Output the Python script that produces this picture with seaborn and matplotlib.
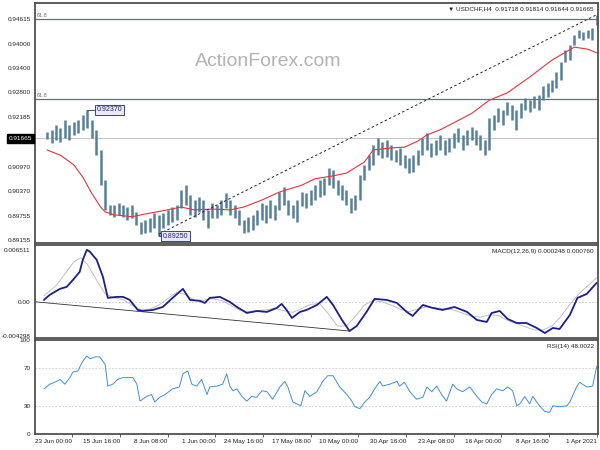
import numpy as np
import pandas as pd
import matplotlib
matplotlib.use("Agg")
import matplotlib.pyplot as plt
import matplotlib.transforms as mtransforms
import seaborn as sns

# USDCHF H4, one entry per 12h step (3 bars), oldest first: 1 Apr 2021 -> 25 Jun 2021
bar_high = [
    0.9471, 0.9439, 0.9434, 0.9429, 0.9434, 0.9422, 0.9397, 0.9385, 0.9355, 0.9331,
    0.9311, 0.9303, 0.9296, 0.9274, 0.9271, 0.9261, 0.9266, 0.9254, 0.9237, 0.9249,
    0.9257, 0.9237, 0.9242, 0.9224, 0.9217, 0.9163, 0.9175, 0.9187, 0.9195, 0.9187,
    0.9175, 0.9192, 0.9180, 0.9168, 0.9163, 0.9175, 0.9163, 0.9155, 0.9180, 0.9168,
    0.9138, 0.9126, 0.9118, 0.9126, 0.9143, 0.9138, 0.9150, 0.9163, 0.9158, 0.9168,
    0.9150, 0.9126, 0.9101, 0.9076, 0.9027, 0.9019, 0.9039, 0.9051, 0.9064, 0.9089,
    0.9093, 0.9069, 0.9064, 0.9051, 0.9039, 0.9032, 0.9034, 0.9014, 0.9002, 0.9014,
    0.9047, 0.9034, 0.9002, 0.9014, 0.9002, 0.9007, 0.8990, 0.8977, 0.8972, 0.8965,
    0.8990, 0.9002, 0.9014, 0.9032, 0.9014, 0.9002, 0.9007, 0.8990, 0.9014, 0.9022,
    0.9014, 0.9027, 0.9051, 0.9039, 0.9002, 0.8997, 0.8990, 0.8982, 0.8977, 0.8982,
    0.8970, 0.8965, 0.8960, 0.8985, 0.9002, 0.8997, 0.9002, 0.9007, 0.9002, 0.9002,
    0.9064, 0.9138, 0.9187, 0.9212, 0.9237, 0.9224, 0.9212, 0.9207, 0.9200, 0.9212,
    0.9192, 0.9200, 0.9187, 0.9182]
bar_low = [
    0.9447, 0.9410, 0.9415, 0.9410, 0.9415, 0.9397, 0.9360, 0.9355, 0.9311, 0.9291,
    0.9281, 0.9269, 0.9261, 0.9237, 0.9242, 0.9232, 0.9237, 0.9217, 0.9187, 0.9212,
    0.9225, 0.9200, 0.9207, 0.9187, 0.9138, 0.9126, 0.9138, 0.9150, 0.9163, 0.9150,
    0.9138, 0.9158, 0.9143, 0.9133, 0.9126, 0.9138, 0.9126, 0.9121, 0.9138, 0.9126,
    0.9101, 0.9084, 0.9081, 0.9093, 0.9101, 0.9108, 0.9113, 0.9121, 0.9118, 0.9126,
    0.9101, 0.9089, 0.9064, 0.9014, 0.8990, 0.8982, 0.9002, 0.9014, 0.9027, 0.9044,
    0.9051, 0.9027, 0.9022, 0.9014, 0.9002, 0.8995, 0.8999, 0.8960, 0.8970, 0.8977,
    0.9002, 0.8990, 0.8965, 0.8970, 0.8958, 0.8965, 0.8953, 0.8940, 0.8935, 0.8933,
    0.8953, 0.8970, 0.8977, 0.8995, 0.8977, 0.8970, 0.8970, 0.8945, 0.8965, 0.8985,
    0.8972, 0.8977, 0.9002, 0.8995, 0.8965, 0.8960, 0.8953, 0.8945, 0.8925, 0.8945,
    0.8935, 0.8933, 0.8930, 0.8953, 0.8970, 0.8965, 0.8972, 0.8977, 0.8972, 0.8977,
    0.8990, 0.9051, 0.9126, 0.9168, 0.9192, 0.9187, 0.9180, 0.9175, 0.9163, 0.9168,
    0.9158, 0.9163, 0.9155, 0.9164]

# red moving average
ma_t = [0, 2, 5, 10, 15, 20, 24, 28, 32, 35, 38, 40, 43, 46, 50, 52, 56, 59, 63, 66,
        71, 75, 79, 82, 86, 90, 93, 97, 101, 104, 108, 110, 111, 113, 115, 117, 120, 123]
ma_v = [0.9378, 0.9387, 0.9392, 0.9360, 0.9318, 0.9279, 0.9261, 0.9228, 0.9205, 0.9188,
        0.9175, 0.9160, 0.9145, 0.9143, 0.9138, 0.9108, 0.9081, 0.9074, 0.9067, 0.9051,
        0.9034, 0.9014, 0.8997, 0.8990, 0.8992, 0.8990, 0.8997, 0.8988, 0.8980, 0.8973,
        0.8978, 0.8985, 0.8997, 0.9031, 0.9071, 0.9101, 0.9125, 0.9138]

# dotted trend line low -> high
trend_t = [98, 0]
trend_v = [0.8930, 0.9472]

fib_levels = [0.94615, 0.92639]
fib_names = ['61.8', '61.8']
last_price = 0.91665
hi_mark = (114, 0.92370)
lo_mark = (98, 0.89250)
price_ticks = [0.94615, 0.94000, 0.93400, 0.92800, 0.92185, 0.90970, 0.90370, 0.89755, 0.89155]

macd_t = [0, 2.2, 4.3, 6, 8.3, 9.8, 11.6, 13.4, 15.7, 17.9,
          19.9, 21.7, 23.5, 24.6, 26.8, 29, 31.8, 34.5, 36.7, 38.9,
          41.2, 42.5, 44.7, 47, 49.7, 51.5, 53.7, 55.3, 57, 59,
          60.4, 62.6, 64.9, 66.4, 68.2, 69.4, 70.5, 71.6, 73.8, 76,
          78.3, 80.5, 82.1, 84.3, 86.6, 87.7, 88.8, 91, 92.6, 94.9,
          97.1, 99.3, 101.6, 102.7, 104.5, 106, 107.4, 109.4, 110.5, 111.9,
          113.4, 114.1, 115, 115.7, 117.2, 118.6, 120.1, 122.4, 123.7]
macd_v = [0.00238, 0.00100, 0.00050, -0.00163, -0.00338, -0.00325, -0.00388, -0.00325, -0.00263, -0.00263,
          -0.00213, -0.00113, -0.00138, -0.00250, -0.00225, -0.00125, -0.00063, -0.00100, -0.00075, -0.00038,
          -0.00175, -0.00125, -0.00013, 0.00025, 0.00038, -0.00125, -0.00300, -0.00363, -0.00225, -0.00038,
          0.00063, -0.00038, -0.00100, -0.00125, -0.00200, -0.00100, -0.00025, -0.00075, -0.00125, -0.00113,
          -0.00138, -0.00063, 0.0, 0.00063, 0.00050, -0.00013, 0.00013, 0.00025, 0.00163, 0.00050,
          -0.00063, -0.00100, -0.00113, -0.00100, 0.00025, 0.00063, 0.00063, 0.00050, 0.00313, 0.00525,
          0.00625, 0.00650, 0.00525, 0.00375, 0.00275, 0.00188, 0.00163, 0.00088, 0.00025]
sig_t = [0, 2, 4, 6, 8, 10, 12, 14, 16, 18, 20, 22, 24, 26, 28, 30, 32, 35, 38,
         40, 42, 44, 46, 48, 50, 52, 54, 56, 58, 60, 62, 64, 66, 68, 70, 72, 74, 76, 78,
         80, 82, 84, 86, 88, 90, 92, 94, 96, 98, 100, 102, 104, 106, 108, 110, 112, 114,
         115.5, 117, 119, 121, 123.7]
sig_v = [0.0030, 0.0020, 0.0010, -0.0003, -0.0018, -0.0030, -0.0035, -0.0035, -0.0031, -0.0027,
         -0.0023, -0.0017, -0.0016, -0.0019, -0.0018, -0.0014, -0.0010, -0.0008, -0.0006,
         -0.0009, -0.0012, -0.0009, -0.0004, 0.0000, 0.0002, -0.0004, -0.0018, -0.0030, -0.0030,
         -0.0015, -0.0002, -0.0003, -0.0008, -0.0013, -0.0011, -0.0008, -0.0010, -0.0011, -0.0012,
         -0.0010, -0.0004, 0.0002, 0.0004, 0.0002, 0.0002, 0.0009, 0.0012, 0.0004, -0.0004,
         -0.0009, -0.0010, -0.0004, 0.0003, 0.0005, 0.0010, 0.0028, 0.0047,
         0.0055, 0.0050, 0.0035, 0.0020, 0.00076]
div_t = [125.7, 55.3]
div_v = [0.00002, -0.00363]

rsi_t = [0, 0.9, 2.2, 3.8, 4.5, 6, 6.7, 8.3, 9.8, 10.5,
         11.6, 12.8, 14.3, 15, 16.1, 17.2, 17.9, 18.8, 19.9, 21,
         22.4, 23.5, 24.6, 25.7, 26.8, 28.4, 30, 31.3, 32.2, 33.6,
         34.7, 35.8, 36.9, 38, 38.9, 40.3, 41.8, 43, 44.1, 44.7,
         46.3, 47.9, 48.5, 49.7, 50.8, 51.9, 53, 54.1, 54.8, 55.9,
         57.5, 59, 60.2, 61.3, 62.6, 64.2, 65.3, 66.2, 68, 69.1,
         69.8, 70.9, 72.5, 73.8, 74.9, 76.1, 77.2, 78.3, 79.4, 80.5,
         81.4, 82.1, 82.8, 83.7, 85, 86.6, 87.2, 88.4, 89.5, 90.6,
         91.5, 92.6, 93.4, 94.9, 96.6, 97.8, 98.9, 99.6, 100.7, 102.2,
         102.9, 103.8, 106, 107.2, 108.3, 109.4, 110, 111.2, 112.3, 113.4,
         114.1, 115.2, 116.1, 117.2, 117.9, 119, 120.1, 121.3, 122.4, 123.7]
rsi_v = [72, 51, 50, 55, 50, 34, 30, 29, 30, 23,
         24, 30, 40, 32, 40, 32, 30, 46, 50, 46,
         48, 42, 32, 34, 40, 50, 45, 48, 53, 35,
         42, 51, 45, 50, 39, 37, 45, 55, 51, 56,
         53, 51, 56, 48, 39, 34, 27, 29, 35, 42,
         50, 62, 62, 56, 45, 40, 46, 30, 34, 50,
         56, 50, 37, 45, 46, 39, 40, 35, 40, 48,
         46, 51, 64, 53, 51, 50, 42, 58, 51, 53,
         67, 64, 50, 48, 42, 39, 34, 42, 40, 35,
         53, 60, 60, 58, 53, 51, 74, 82, 82, 80,
         83, 76, 67, 66, 60, 53, 58, 55, 53, 48]

date_labels = ['1 Apr 2021', '8 Apr 16:00', '16 Apr 00:00', '23 Apr 08:00', '30 Apr 16:00',
               '10 May 00:00', '17 May 08:00', '24 May 16:00', '1 Jun 00:00', '8 Jun 08:00',
               '15 Jun 16:00', '23 Jun 00:00']
bars_per_label = 32  # H4 bars between time labels, 3 bars per step

sns.set_style("white")
plt.rcParams['font.family'] = ['Liberation Sans', 'DejaVu Sans']
FS = 4.6
frame = '#505050'

fig = plt.figure(figsize=(6, 4.5), dpi=100)
W, H = 600, 450


def panel(top, bottom):
    ax = fig.add_axes([35 / W, 1 - bottom / H, 563 / W, (bottom - top) / H])
    for s in ax.spines.values():
        s.set_color(frame)
        s.set_linewidth(1.3)
    ax.set_xlim(125.7, -0.3)
    ax.tick_params(axis='y', labelsize=FS, length=2, width=0.5, pad=1, colors='#222222')
    ax.tick_params(axis='x', bottom=False, labelbottom=False)
    return ax


ax1 = panel(3, 243)
ax2 = panel(245, 338)
ax3 = panel(340, 434)

# ---- price panel
t = np.arange(len(bar_high))
ax1.vlines(t, bar_low, bar_high, color='#55809b', lw=1.8)
sns.lineplot(x=ma_t, y=ma_v, ax=ax1, color='#e8333c', lw=0.8, estimator=None)
ax1.plot(trend_t, trend_v, color='#222222', lw=0.7, ls=(0, (2.5, 2.5)))
for lvl, name in zip(fib_levels, fib_names):
    ax1.axhline(lvl, color='#607575', lw=0.9)
    ax1.text(125.3, lvl + 0.0002, name, fontsize=4.0, color='#607575', ha='left', va='bottom')
ax1.axhline(last_price, color='#c4c4c4', lw=0.7, zorder=0)
ax1.set_ylim(0.89082, 0.95010)
ax1.set_yticks(price_ticks)
ax1.set_yticklabels([f'{v:.5f}' for v in price_ticks])

trans = mtransforms.blended_transform_factory(ax1.transAxes, ax1.transData)
ax1.text(-0.005, last_price, f'{last_price:.5f}', transform=trans, ha='right', va='center',
         fontsize=FS, color='white',
         bbox=dict(boxstyle='square,pad=0.3', fc='black', ec='black'))

box = dict(boxstyle='square,pad=0.2', fc='#e8e8fa', ec='#3a3ab0', lw=0.7)
ax1.plot([hi_mark[0], hi_mark[0] - 2.1], [hi_mark[1], hi_mark[1]], color='#303060', lw=0.6)
ax1.text(hi_mark[0] - 2.1, hi_mark[1], f'{hi_mark[1]:.5f}', fontsize=5.0, color='#202080',
         ha='left', va='center', bbox=box)
ax1.plot([lo_mark[0], lo_mark[0], lo_mark[0] - 0.9], [lo_mark[1] + 0.0003, lo_mark[1], lo_mark[1]],
         color='#303060', lw=0.6)
ax1.text(lo_mark[0] - 0.9, lo_mark[1], f'{lo_mark[1]:.5f}', fontsize=5.0, color='#202080',
         ha='left', va='center', bbox=box)

ax1.text(0.414, 0.755, 'ActionForex.com', transform=ax1.transAxes, fontsize=14,
         color='#b3b3b3', ha='center', va='center')
ax1.text(0.993, 0.988, '\u25bc USDCHF,H4  0.91718 0.91814 0.91644 0.91665',
         transform=ax1.transAxes, ha='right', va='top', fontsize=FS, color='#222222')

# ---- MACD panel
ax2.axhline(0, color='#c8c8c8', lw=0.6, ls=(0, (2, 2)))
sns.lineplot(x=sig_t, y=sig_v, ax=ax2, color='#c0c0c0', lw=0.7, estimator=None)
sns.lineplot(x=macd_t, y=macd_v, ax=ax2, color='#1c1f8a', lw=1.3, estimator=None)
ax2.plot(div_t, div_v, color='#333333', lw=0.6)
ax2.set_ylim(-0.0045, 0.0071)
ax2.set_yticks([-0.004298, 0.0, 0.006511])
ax2.set_yticklabels(['-0.004298', '0.00', '0.006511'])
ax2.text(0.993, 0.955, 'MACD(12,26,9) 0.000248 0.000760', transform=ax2.transAxes,
         ha='right', va='top', fontsize=FS, color='#222222')

# ---- RSI panel
for lvl in (30, 70):
    ax3.axhline(lvl, color='#c8c8c8', lw=0.6, ls=(0, (2, 2)))
sns.lineplot(x=rsi_t, y=rsi_v, ax=ax3, color='#3d8fe0', lw=0.7, estimator=None)
ax3.set_ylim(0, 100)
ax3.set_yticks([0, 30, 70, 100])
ax3.set_yticklabels(['0', '30', '70', '100'])
ax3.text(0.993, 0.955, 'RSI(14) 48.0022', transform=ax3.transAxes,
         ha='right', va='top', fontsize=FS, color='#222222')

date_pos = [i * bars_per_label / 3 for i in range(len(date_labels))]
ax3.set_xticks(date_pos)
ax3.set_xticklabels(date_labels, ha='right')
ax3.tick_params(axis='x', bottom=True, labelbottom=True, labelsize=FS, length=2, width=0.5,
                pad=1.5, colors='#222222')

for ax in (ax1, ax2, ax3):
    ax.set_xlabel('')
    ax.set_ylabel('')

fig.savefig('out.png', dpi=100, facecolor='white')
